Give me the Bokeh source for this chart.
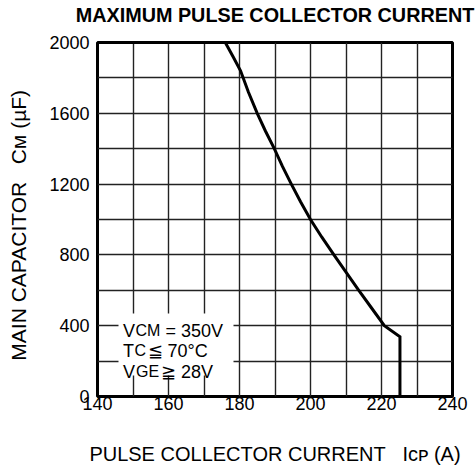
from bokeh.plotting import figure
from bokeh.models import Range1d, FixedTicker, Label, LinearAxis
from bokeh.embed import file_html
from bokeh.resources import INLINE

# ---- data ----
cap_x = [140, 176, 178.2, 180.3, 182.5, 185, 187.3, 189.8, 192.1, 194.6, 197.2, 200,
         203.2, 206.6, 210.1, 213.6, 217.2, 220.8, 225.2, 225.2]
cap_y = [2000, 2000, 1920, 1840, 1720, 1600, 1500, 1400, 1300, 1200, 1100, 1000,
         900, 800, 700, 600, 500, 400, 338, 0]
x_ticks = [140, 160, 180, 200, 220, 240]
y_ticks = [0, 400, 800, 1200, 1600, 2000]
x_grid = [150, 160, 170, 180, 190, 200, 210, 220, 230]
y_grid = [200, 400, 600, 800, 1000, 1200, 1400, 1600, 1800]
XMIN, XMAX, YMIN, YMAX = 140, 240, 0, 2000

FONT = "Liberation Sans"
NB = "\u00a0"

# frame geometry in page pixels (used only to place the in-frame note)
FL, FR, FT, FB = 97, 452, 42, 396


def dx(px):
    return XMIN + (px - FL) / (FR - FL) * (XMAX - XMIN)


def dy(py):
    return YMIN + (FB - py) / (FB - FT) * (YMAX - YMIN)


p = figure(width=476, height=468, output_backend="svg", toolbar_location=None,
           x_range=Range1d(XMIN, XMAX), y_range=Range1d(YMIN, YMAX),
           min_border_left=FL, min_border_right=476 - FR, min_border_top=FT,
           min_border_bottom=468 - FB,
           frame_width=FR - FL, frame_height=FB - FT)
p.background_fill_color = "white"
p.border_fill_color = "white"
p.outline_line_color = "black"
p.outline_line_width = 3

for ax in (p.xaxis[0], p.yaxis[0]):
    ax.axis_line_color = None
    ax.major_tick_line_color = None
    ax.minor_tick_line_color = None
    ax.major_tick_out = 0
    ax.major_tick_in = 0
    ax.major_label_text_font = FONT
    ax.major_label_text_font_size = "18px"
    ax.major_label_text_color = "black"
    ax.axis_label_text_font = FONT
    ax.axis_label_text_font_style = "normal"
    ax.axis_label_text_color = "black"

p.xaxis[0].ticker = FixedTicker(ticks=x_ticks)
p.yaxis[0].ticker = FixedTicker(ticks=y_ticks)
p.xaxis[0].major_label_standoff = 0
p.yaxis[0].major_label_standoff = 8

p.xaxis[0].axis_label = "PULSE COLLECTOR CURRENT" + NB * 3 + "I\u1d04\u1d18 (A)"
p.xaxis[0].axis_label_text_font_size = "20px"
p.xaxis[0].axis_label_standoff = 30
p.yaxis[0].axis_label = "MAIN CAPACITOR" + NB * 3 + "C\u1d0d (\u00b5F)" + NB * 2
p.yaxis[0].axis_label_text_font_size = "21px"
p.yaxis[0].axis_label_standoff = 16

p.xgrid[0].ticker = FixedTicker(ticks=x_grid)
p.ygrid[0].ticker = FixedTicker(ticks=y_grid)
for g in (p.xgrid[0], p.ygrid[0]):
    g.grid_line_color = "#222222"
    g.grid_line_width = 1.4
    g.grid_line_alpha = 1.0

# chart title, carried by a tick-less axis above the frame
top_ax = LinearAxis(ticker=FixedTicker(ticks=[]), axis_label="MAXIMUM PULSE COLLECTOR CURRENT",
                    axis_line_color=None, major_tick_line_color=None,
                    minor_tick_line_color=None, major_tick_out=0, major_tick_in=0,
                    minor_tick_out=0, minor_tick_in=0, major_label_standoff=0,
                    axis_label_standoff=17, axis_label_text_font=FONT,
                    axis_label_text_font_size="19.8px", axis_label_text_font_style="bold",
                    axis_label_text_color="black")
p.add_layout(top_ax, "above")

# white box behind the conditions text
p.quad(left=[dx(118)], right=[dx(233)], bottom=[dy(375)], top=[dy(313)],
       fill_color="white", line_color=None)

p.line(cap_x, cap_y, line_color="black", line_width=3, line_join="miter")


def lab(px, py, text, size):
    p.add_layout(Label(x=dx(px), y=dy(py), text=text, text_font=FONT,
                       text_font_size=f"{size}px", text_color="black",
                       text_align="left", text_baseline="alphabetic"))


# conditions text
lab(122.5, 330, "V", 18)
lab(135, 330, "CM", 16)
lab(165, 330, "= 350V", 18)
lab(122.5, 350, "T", 18)
lab(134, 350, "C", 16)
lab(147, 350, "\u2266 70\u00b0C", 18)
lab(122.5, 371, "V", 18)
lab(135.5, 371, "GE", 16)
lab(160.5, 371, "\u2267 28V", 18)

open("out.html", "w").write(file_html(p, INLINE))
